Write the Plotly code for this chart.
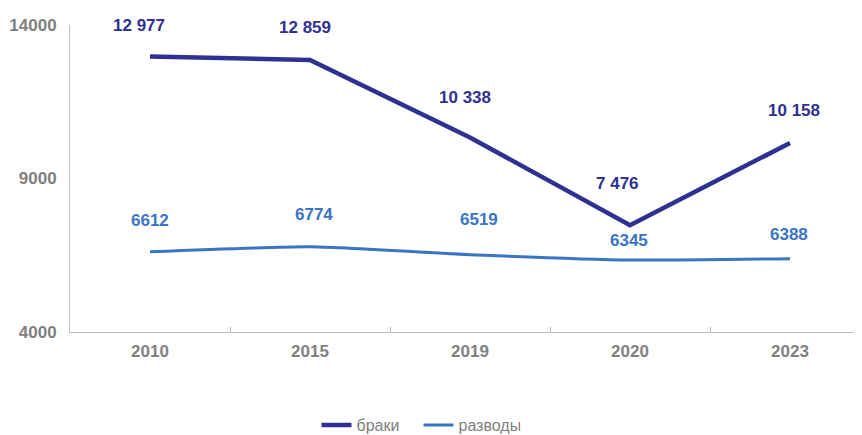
import plotly.graph_objects as go

years = ["2010", "2015", "2019", "2020", "2023"]
braki = [12977, 12859, 10338, 7476, 10158]
razvody = [6612, 6774, 6519, 6345, 6388]
y_ticks = [4000, 9000, 14000]

# label styling (pixel offsets of data labels, as in the reference)
braki_dx = [-11, -5, -5, -13, 4]
braki_dy = [31, 33, 40, 42, 32]
razv_dx = [0, 4, 9, -1, -1]
razv_dy = [31, 32, 35, 20, 24]

C_BRAK = "#2E3191"
C_RAZV = "#3A74C4"
GRAY = "#808080"
FONT = "Liberation Sans, Arial, sans-serif"

def fmt_space(v):
    return f"{v:,}".replace(",", " ")

fig = go.Figure()
fig.add_trace(go.Scatter(x=years, y=braki, mode="lines", name="браки",
                         line=dict(color=C_BRAK, width=4.5)))
fig.add_trace(go.Scatter(x=years, y=razvody, mode="lines", name="разводы",
                         line=dict(color=C_RAZV, width=3, shape="spline", smoothing=0.5)))

for i, yr in enumerate(years):
    fig.add_annotation(x=i, y=braki[i], xref="x", yref="y",
                       text=f"<b>{fmt_space(braki[i])}</b>",
                       showarrow=False, xshift=braki_dx[i], yshift=braki_dy[i],
                       font=dict(family=FONT, size=17, color=C_BRAK))
    fig.add_annotation(x=i, y=razvody[i], xref="x", yref="y",
                       text=f"<b>{razvody[i]}</b>",
                       showarrow=False, xshift=razv_dx[i], yshift=razv_dy[i],
                       font=dict(family=FONT, size=17, color=C_RAZV))

# the page body adds an 8px offset, so the figure is 8px smaller than the window
fig.update_layout(
    width=854, height=427,
    margin=dict(l=62, r=0, t=17, b=103, autoexpand=False),
    plot_bgcolor="white", paper_bgcolor="white",
    font=dict(family=FONT, color=GRAY),
    showlegend=True,
    legend=dict(orientation="h", x=0.44, xanchor="center", y=-0.303, yanchor="middle",
                font=dict(family=FONT, size=16, color=GRAY),
                entrywidth=57, entrywidthmode="pixels",
                tracegroupgap=0),
    xaxis=dict(type="category", range=[-0.5, 4.45], showgrid=False, automargin=False,
               showline=True, linecolor="#BFBFBF", linewidth=1,
               ticks="inside", tickson="boundaries", ticklen=5, tickcolor="#BFBFBF",
               ticklabelstandoff=4,
               tickfont=dict(family=FONT, size=17, color=GRAY),
               tickvals=years, ticktext=[f"<b>{y}</b>" for y in years], zeroline=False),
    yaxis=dict(range=[4000, 14000], tickvals=y_ticks, automargin=False,
               ticktext=[f"<b>{v}</b>" for v in y_ticks], showgrid=False,
               showline=True, linecolor="#BFBFBF", linewidth=1,
               ticks="", ticklabelstandoff=9,
               tickfont=dict(family=FONT, size=17, color=GRAY), zeroline=False),
)

fig.write_html("out.html")
